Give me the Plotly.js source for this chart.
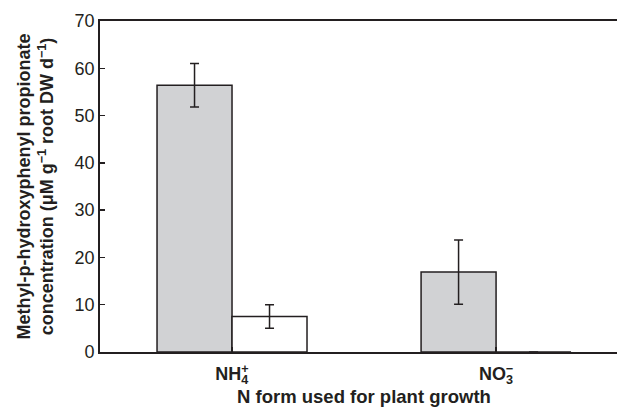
<!DOCTYPE html>
<html>
<head>
<meta charset="utf-8">
<script src="https://cdn.plot.ly/plotly-3.0.1.min.js"></script>
<style>html,body{margin:0;padding:0;background:#fff;}#chart{width:617px;height:413px;}</style>
</head>
<body>
<div id="chart"></div>
<script>
const categories = ["NH<sub style=\"letter-spacing:-0.56em\">4</sub><sup>+</sup>", "NO<sub style=\"letter-spacing:-0.56em\">3</sub><sup>−</sup>"];
const grayValues = [56.4, 16.9];
const grayErrors = [4.6, 6.8];
const whiteValues = [7.5, 0];
const whiteErrors = [2.5, 0];
const yTickVals = [0, 10, 20, 30, 40, 50, 60, 70];
const xTitle = "N form used for plant growth";

const ink = "#231f20";
const font = "Liberation Sans, Arial, Helvetica, sans-serif";

const traces = [
  {
    type: "bar", x: [0, 1], y: grayValues,
    marker: {color: "#d1d2d4", line: {color: ink, width: 1.5}},
    error_y: {type: "data", array: grayErrors, visible: true, color: ink, thickness: 1.5, width: 4.5},
    hoverinfo: "skip"
  },
  {
    type: "bar", x: [0, 1], y: whiteValues,
    marker: {color: "#ffffff", line: {color: ink, width: 1.5}},
    error_y: {type: "data", array: whiteErrors, visible: true, color: ink, thickness: 1.5, width: 4.5},
    hoverinfo: "skip"
  }
];

const layout = {
  width: 617, height: 413,
  margin: {l: 100, r: 0, t: 21, b: 61},
  paper_bgcolor: "#ffffff", plot_bgcolor: "#ffffff",
  showlegend: false,
  barmode: "group", bargap: 0.432, bargroupgap: 0,
  font: {family: font, color: ink},
  xaxis: {
    range: [-0.5, 1.458],
    tickmode: "array", tickvals: [0, 1], ticktext: categories,
    tickson: "boundaries",
    ticks: "inside", ticklen: 5, tickwidth: 1.5, tickcolor: ink,
    ticklabelstandoff: 5,
    showline: true, linecolor: ink, linewidth: 1.8, mirror: true,
    showgrid: false, zeroline: false,
    tickfont: {family: font, size: 18, color: ink, weight: "bold"}
  },
  yaxis: {
    range: [0, 70],
    tickmode: "array", tickvals: yTickVals,
    ticks: "inside", ticklen: 5, tickwidth: 1.5, tickcolor: ink,
    showline: true, linecolor: ink, linewidth: 1.8,
    showgrid: false, zeroline: false,
    tickfont: {family: font, size: 18, color: ink},
    title: {text: "<b>Methyl-p-hydroxyphenyl propionate<br>concentration (μM g<sup>−1</sup> root DW d<sup>−1</sup>)</b>", font: {family: font, size: 18, color: ink}, standoff: 16}
  },
  annotations: [{
    text: "<b>" + xTitle + "</b>",
    xref: "x", x: 0.5, yref: "paper", y: -0.133,
    xanchor: "center", yanchor: "middle", showarrow: false,
    font: {family: font, size: 18.5, color: ink}
  }]
};

Plotly.newPlot("chart", traces, layout, {displayModeBar: false, staticPlot: true});
</script>
</body>
</html>
